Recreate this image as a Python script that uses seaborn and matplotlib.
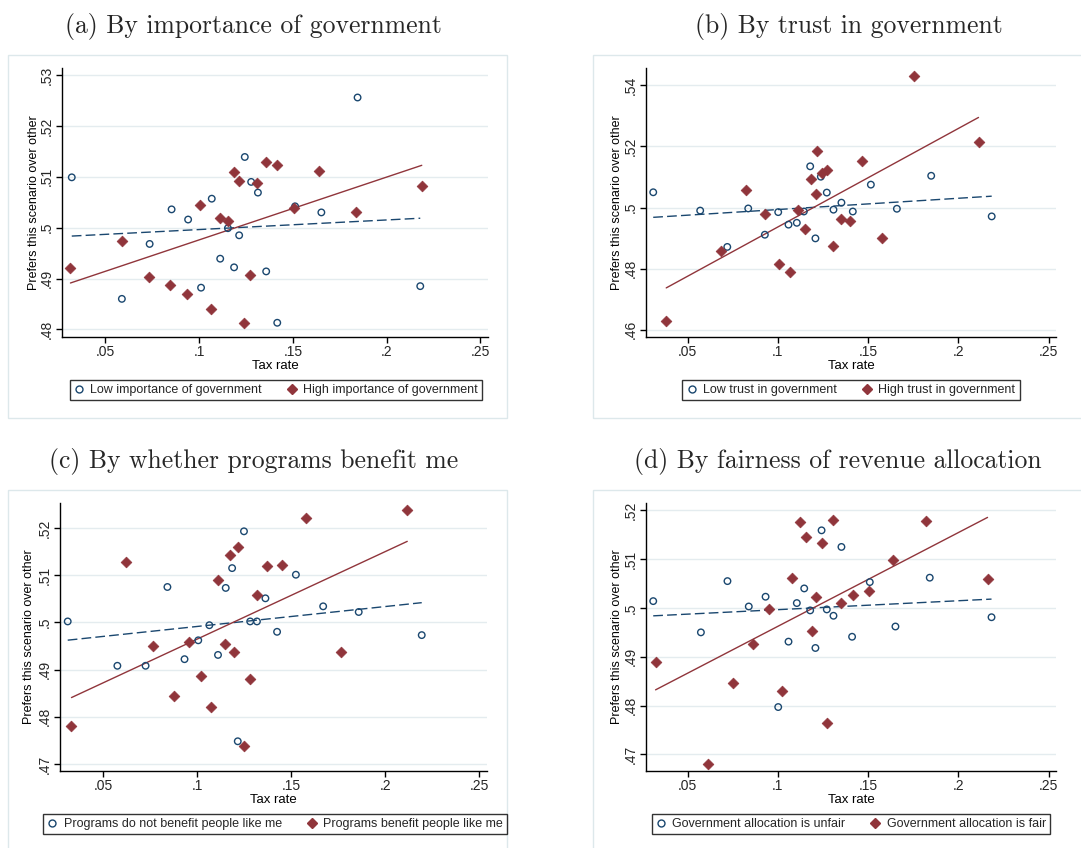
import numpy as np
import pandas as pd
import matplotlib
matplotlib.use("Agg")
import matplotlib.pyplot as plt
import seaborn as sns
from matplotlib.patches import Rectangle
from matplotlib.lines import Line2D

# ---------------- data ----------------
# (a) importance of government
a_low_x = [0.0322, 0.0589, 0.0737, 0.0854, 0.0942, 0.1011, 0.1068, 0.1113, 0.1154, 0.1187,
           0.1214, 0.1244, 0.1278, 0.1314, 0.1358, 0.1417, 0.1512, 0.1652, 0.1845, 0.2179]
a_low_y = [0.5099, 0.4860, 0.4968, 0.5036, 0.5016, 0.4882, 0.5057, 0.4939, 0.4999, 0.4922,
           0.4985, 0.5139, 0.5090, 0.5069, 0.4914, 0.4813, 0.5042, 0.5030, 0.5256, 0.4885]
a_high_x = [0.0315, 0.0589, 0.0735, 0.0844, 0.0935, 0.1008, 0.1066, 0.1111, 0.1152, 0.1184,
            0.1211, 0.1241, 0.1273, 0.1309, 0.1355, 0.1414, 0.1506, 0.1642, 0.1834, 0.2187]
a_high_y = [0.4921, 0.4974, 0.4903, 0.4887, 0.4870, 0.5045, 0.4841, 0.5020, 0.5014, 0.5109,
            0.5091, 0.4813, 0.4907, 0.5088, 0.5130, 0.5124, 0.5039, 0.5112, 0.5031, 0.5082]

# (b) trust in government
b_low_x = [0.0310, 0.0570, 0.0720, 0.0836, 0.0928, 0.1002, 0.1059, 0.1105, 0.1144, 0.1179,
           0.1208, 0.1238, 0.1271, 0.1308, 0.1352, 0.1415, 0.1515, 0.1659, 0.1849, 0.2184]
b_low_y = [0.5050, 0.4990, 0.4871, 0.4997, 0.4911, 0.4985, 0.4944, 0.4950, 0.4987, 0.5135,
           0.4899, 0.5101, 0.5049, 0.4993, 0.5016, 0.4987, 0.5075, 0.4996, 0.5104, 0.4971]
b_high_x = [0.0382, 0.0683, 0.0825, 0.0928, 0.1004, 0.1066, 0.1113, 0.1149, 0.1183, 0.1210,
            0.1218, 0.1242, 0.1273, 0.1308, 0.1351, 0.1402, 0.1467, 0.1576, 0.1756, 0.2111]
b_high_y = [0.4628, 0.4859, 0.5059, 0.4980, 0.4814, 0.4788, 0.4992, 0.4929, 0.5092, 0.5043,
            0.5184, 0.5112, 0.5123, 0.4875, 0.4963, 0.4956, 0.5154, 0.4901, 0.5432, 0.5214]

# (c) programs benefit me
c_low_x = [0.0311, 0.0575, 0.0725, 0.0841, 0.0932, 0.1005, 0.1064, 0.1110, 0.1151, 0.1185,
           0.1215, 0.1248, 0.1281, 0.1317, 0.1362, 0.1424, 0.1524, 0.1669, 0.1858, 0.2193]
c_low_y = [0.5002, 0.4908, 0.4908, 0.5075, 0.4922, 0.4962, 0.4994, 0.4931, 0.5073, 0.5115,
           0.4748, 0.5193, 0.5002, 0.5002, 0.5051, 0.4980, 0.5101, 0.5034, 0.5022, 0.4973]
c_high_x = [0.0331, 0.0620, 0.0766, 0.0875, 0.0955, 0.1021, 0.1071, 0.1110, 0.1146, 0.1176,
            0.1194, 0.1217, 0.1248, 0.1281, 0.1319, 0.1369, 0.1451, 0.1576, 0.1763, 0.2116]
c_high_y = [0.4780, 0.5127, 0.4949, 0.4843, 0.4959, 0.4886, 0.4820, 0.5090, 0.4954, 0.5142,
            0.4937, 0.5160, 0.4737, 0.4881, 0.5059, 0.5119, 0.5122, 0.5222, 0.4938, 0.5238]

# (d) fairness of revenue allocation
d_low_x = [0.0310, 0.0574, 0.0721, 0.0839, 0.0932, 0.1002, 0.1059, 0.1105, 0.1146, 0.1179,
           0.1208, 0.1242, 0.1271, 0.1308, 0.1352, 0.1411, 0.1509, 0.1651, 0.1841, 0.2183]
d_low_y = [0.5014, 0.4950, 0.5055, 0.5003, 0.5023, 0.4797, 0.4931, 0.5010, 0.5040, 0.4995,
           0.4918, 0.5159, 0.4997, 0.4984, 0.5125, 0.4941, 0.5053, 0.4962, 0.5062, 0.4981]
d_high_x = [0.0323, 0.0611, 0.0753, 0.0863, 0.0952, 0.1022, 0.1079, 0.1120, 0.1157, 0.1190,
            0.1212, 0.1242, 0.1271, 0.1308, 0.1352, 0.1415, 0.1504, 0.1637, 0.1823, 0.2161]
d_high_y = [0.4889, 0.4680, 0.4847, 0.4926, 0.4998, 0.4830, 0.5061, 0.5177, 0.5145, 0.4953,
            0.5022, 0.5134, 0.4764, 0.5180, 0.5011, 0.5027, 0.5034, 0.5099, 0.5179, 0.5059]

titles = ["(a) By importance of government", "(b) By trust in government",
          "(c) By whether programs benefit me", "(d) By fairness of revenue allocation"]
legend_low = ["Low importance of government", "Low trust in government",
              "Programs do not benefit people like me", "Government allocation is unfair"]
legend_high = ["High importance of government", "High trust in government",
               "Programs benefit people like me", "Government allocation is fair"]
x_ticks = [0.05, 0.10, 0.15, 0.20, 0.25]
x_ticklabels = [".05", ".1", ".15", ".2", ".25"]
y_ticks_list = [[0.48, 0.49, 0.50, 0.51, 0.52, 0.53],
                [0.46, 0.48, 0.50, 0.52, 0.54],
                [0.47, 0.48, 0.49, 0.50, 0.51, 0.52],
                [0.47, 0.48, 0.49, 0.50, 0.51, 0.52]]
y_ticklabels_list = [[".48", ".49", ".5", ".51", ".52", ".53"],
                     [".46", ".48", ".5", ".52", ".54"],
                     [".47", ".48", ".49", ".5", ".51", ".52"],
                     [".47", ".48", ".49", ".5", ".51", ".52"]]
x_label = "Tax rate"
y_label = "Prefers this scenario over other"

# ---------------- style ----------------
sns.set_theme(style="white")
plt.rcParams['font.family'] = ['Liberation Sans', 'DejaVu Sans']
plt.rcParams['axes.unicode_minus'] = False

NAVY = "#1a476f"
MAROON = "#90353b"
GRID = "#e4ecef"
FRAME = "#dde8eb"

W, H = 1081, 848
fig = plt.figure(figsize=(W / 100, H / 100), dpi=100)
fig.patch.set_facecolor("white")


def ax_px(l, t, r, b):
    return fig.add_axes([l / W, 1 - b / H, (r - l) / W, (b - t) / H])


# layout spec per panel (pixels)
layout = [
    dict(axes=(62, 68, 488, 337), ylim=(0.4785, 0.5314), frame=(8, 55, 507, 418),
         title_xy=(253, 27), leg=(70, 378, 482, 402), xlab_y=366, ylab_x=34),
    dict(axes=(646, 68, 1056, 337), ylim=(0.4576, 0.5457), frame=(593, 55, 1090, 418),
         title_xy=(849, 27), leg=(690, 378, 1012, 402), xlab_y=366, ylab_x=617),
    dict(axes=(60, 503, 487, 771), ylim=(0.4685, 0.5253), frame=(8, 490, 507, 860),
         title_xy=(254, 462), leg=(60, 812, 490, 836), xlab_y=800, ylab_x=29),
    dict(axes=(646, 503, 1056, 771), ylim=(0.4666, 0.5215), frame=(593, 490, 1090, 860),
         title_xy=(838, 462), leg=(659, 812, 1043, 836), xlab_y=800, ylab_x=617),
]

data = [(a_low_x, a_low_y, a_high_x, a_high_y),
        (b_low_x, b_low_y, b_high_x, b_high_y),
        (c_low_x, c_low_y, c_high_x, c_high_y),
        (d_low_x, d_low_y, d_high_x, d_high_y)]

for i, (spec, (lx, ly, hx, hy)) in enumerate(zip(layout, data)):
    # graph region frame
    fl, ft, fr, fb = spec["frame"]
    fig.patches.append(Rectangle((fl / W, 1 - fb / H), (fr - fl) / W, (fb - ft) / H,
                                 transform=fig.transFigure, fill=False,
                                 edgecolor=FRAME, linewidth=1.0, zorder=0))

    ax = ax_px(*spec["axes"])
    ax.set_facecolor("white")
    low = pd.DataFrame({"tax": lx, "pref": ly})
    high = pd.DataFrame({"tax": hx, "pref": hy})

    for yt in y_ticks_list[i]:
        ax.axhline(yt, color=GRID, linewidth=1.0, zorder=0)

    sns.scatterplot(data=low, x="tax", y="pref", marker="o", s=22,
                    facecolor="none", edgecolor=NAVY, linewidth=1.0, ax=ax, zorder=3)
    sns.scatterplot(data=high, x="tax", y="pref", marker="D", s=30,
                    color=MAROON, edgecolor=MAROON, linewidth=0.5, ax=ax, zorder=3)
    sns.regplot(data=low, x="tax", y="pref", scatter=False, ci=None, truncate=True, ax=ax,
                line_kws=dict(color=NAVY, linewidth=1.0, dashes=(7, 3), zorder=2))
    sns.regplot(data=high, x="tax", y="pref", scatter=False, ci=None, truncate=True, ax=ax,
                line_kws=dict(color=MAROON, linewidth=1.0, zorder=2))

    ax.set_xlim(0.027, 0.254)
    ax.set_ylim(*spec["ylim"])
    ax.set_xticks(x_ticks)
    ax.set_xticklabels(x_ticklabels, fontsize=10)
    ax.set_yticks(y_ticks_list[i])
    ax.set_yticklabels(y_ticklabels_list[i], fontsize=10, rotation=90, va="center")
    ax.tick_params(axis="x", direction="out", length=4, width=1.0, color="black",
                   pad=1.5, bottom=True)
    ax.tick_params(axis="y", direction="out", length=4, width=1.0, color="black",
                   pad=2, left=True)
    for side in ["top", "right"]:
        ax.spines[side].set_visible(False)
    for side in ["left", "bottom"]:
        ax.spines[side].set_color("black")
        ax.spines[side].set_linewidth(1.0)

    al, at, ar, ab = spec["axes"]
    ax.set_xlabel(x_label, fontsize=9.5, color="black")
    ax.xaxis.set_label_coords(0.5, -(spec["xlab_y"] - ab) / (ab - at), transform=ax.transAxes)
    ax.xaxis.label.set_va("center")
    ax.set_ylabel(y_label, fontsize=9, color="black")
    ax.yaxis.set_label_coords(-(al - spec["ylab_x"]) / (ar - al), 0.5, transform=ax.transAxes)
    ax.yaxis.label.set_va("center")

    # title
    tx, ty = spec["title_xy"]
    fig.text(tx / W, 1 - ty / H, titles[i], ha="center", va="center", fontsize=18.5,
             family=["cmr10", "DejaVu Serif"])

    # legend
    ll, lt, lr, lb = spec["leg"]
    handles = [Line2D([], [], marker="o", linestyle="none", markerfacecolor="none",
                      markeredgecolor=NAVY, markersize=5, markeredgewidth=1.0),
               Line2D([], [], marker="D", linestyle="none", color=MAROON, markersize=5)]
    leg = fig.legend(handles, [legend_low[i], legend_high[i]], ncol=2,
                     loc="center", bbox_to_anchor=(((ll + lr) / 2) / W, 1 - ((lt + lb) / 2) / H),
                     fontsize=9, frameon=True, fancybox=False, edgecolor="black",
                     handlelength=0.8, handletextpad=0.5, columnspacing=2.0,
                     borderpad=0.35)
    leg.get_frame().set_linewidth(1.0)

fig.savefig("out.png", dpi=100, facecolor="white")
